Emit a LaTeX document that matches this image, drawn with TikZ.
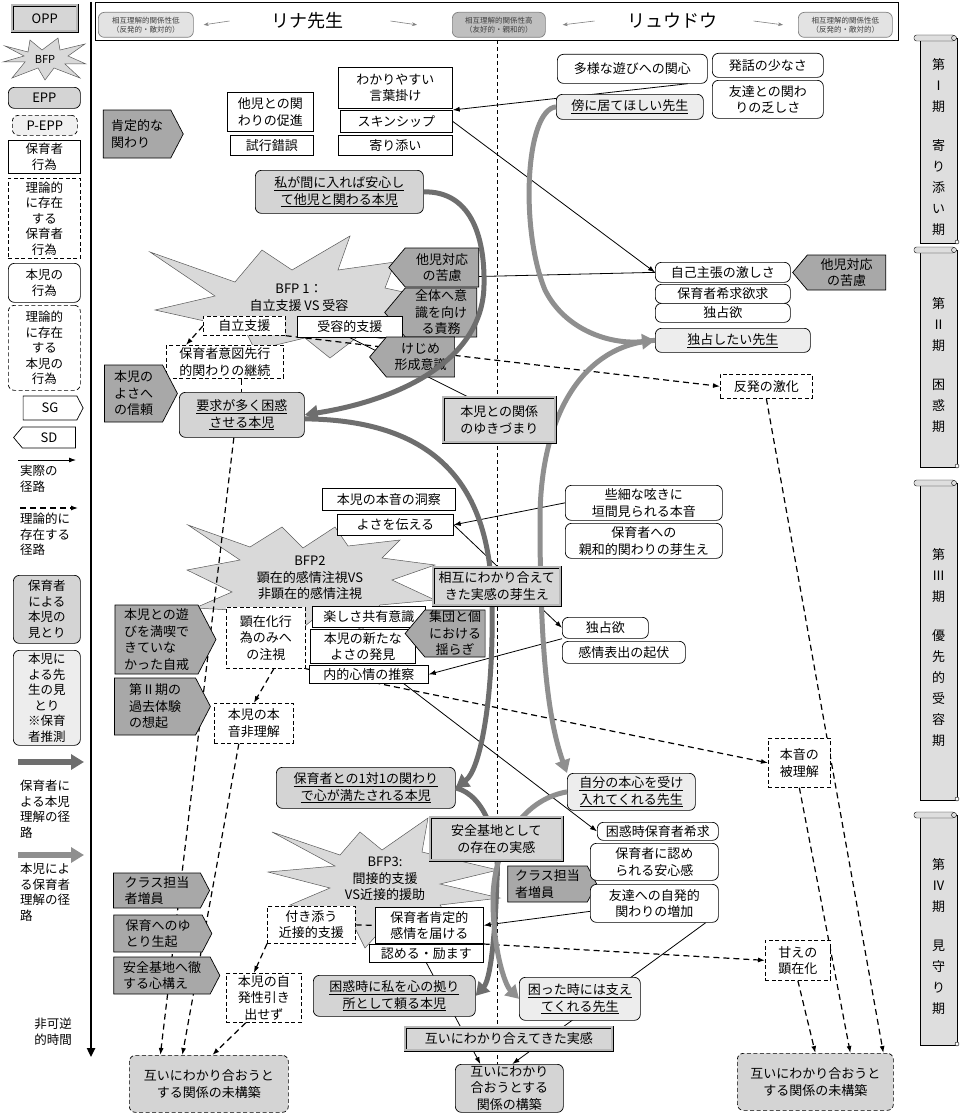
\documentclass[tikz,border=0pt]{standalone}
\usepackage{fontspec}
\setmainfont{Noto Sans CJK JP}
\usepackage{tikz}
\usetikzlibrary{shapes.symbols,arrows.meta,calc,positioning}
\definecolor{seefill}{gray}{0.83}
\definecolor{kidfill}{gray}{0.93}
\definecolor{sgfill}{gray}{0.66}
\definecolor{oppfill}{gray}{0.84}
\definecolor{burstfill}{gray}{0.85}
\definecolor{scrollfill}{gray}{0.87}
\definecolor{teachline}{gray}{0.43}
\definecolor{kidline}{gray}{0.56}
\pgfdeclarelayer{bg}
\pgfdeclarelayer{curve}
\pgfdeclarelayer{top}
\pgfsetlayers{bg,main,curve,top}
\tikzset{
  box/.style={draw, line width=0.7pt, anchor=north west, align=center, inner sep=1pt, fill=white},
  act/.style={box},
  pact/.style={box, dash pattern=on 4pt off 2.5pt},
  kid/.style={box, rounded corners=6pt},
  pkid/.style={kid, dash pattern=on 4pt off 2.5pt},
  seet/.style={kid, fill=seefill},
  seek/.style={kid, fill=kidfill},
  opp/.style={box, fill=oppfill, double=gray!55, double distance=2pt, line width=0.6pt},
  sg/.style={signal, signal to=east, signal pointer angle=125, draw, line width=0.7pt, fill=sgfill, align=left, inner sep=1pt},
  sd/.style={signal, signal to=west, signal pointer angle=100, draw, line width=0.7pt, fill=sgfill, align=center, inner sep=1pt},
  real/.style={-{Latex[length=7pt,width=5pt]}, line width=0.8pt},
  theo/.style={real, dash pattern=on 6pt off 4pt, line width=1.2pt},
  theoline/.style={theo, -},
  tview/.style={line width=5pt, teachline, -{Triangle[length=13pt,width=15pt]}},
  kview/.style={tview, kidline},
  burst/.style={fill=burstfill, draw=gray!70!black, line width=0.5pt},
  hdr/.style={-{Stealth[length=5pt]}, gray, line width=0.6pt},
  legend/.style={font=\fontsize{12.5}{15.5}\selectfont}
}
\begin{document}
\begin{tikzpicture}[x=1pt, y=-1pt, font=\fontsize{13}{16.5}\selectfont]
\useasboundingbox (0,0) rectangle (961,1116);

% header
\draw[line width=0.7pt] (95,2.5) rectangle (898,40);
\node[kid, fill=gray!22, draw=gray, minimum width=95pt, minimum height=25pt, text=darkgray,
      font=\fontsize{7.5}{9}\selectfont] (lowL) at (98,12) {相互理解的関係性低\\（反発的・敵対的）};
\node[kid, fill=gray!50, draw=gray, minimum width=93pt, minimum height=25pt, text=darkgray,
      font=\fontsize{7.5}{9}\selectfont] (high) at (452,12) {相互理解的関係性高\\（友好的・親和的）};
\node[kid, fill=gray!22, draw=gray, minimum width=94pt, minimum height=25pt, text=darkgray,
      font=\fontsize{7.5}{9}\selectfont] (lowR) at (798,12) {相互理解的関係性低\\（反発的・敵対的）};
\node[font=\fontsize{18}{20}\selectfont] (rina) at (307,21) {リナ先生};
\node[font=\fontsize{18}{20}\selectfont] (ryu) at (672,21) {リュウドウ};
\draw[hdr] ([xshift=-38pt]rina.west) -- ([xshift=10pt]lowL.east);
\draw[hdr] ([xshift=44pt]rina.east) -- ([xshift=-35pt]high.west);
\draw[hdr] ([xshift=-29pt]ryu.west) -- ([xshift=17pt]high.east);
\draw[hdr] ([xshift=33pt]ryu.east) -- ([xshift=-15pt]lowR.west);

% time axis
\draw[line width=2.5pt, -{Triangle[length=9pt,width=8pt]}] (91,2) -- (91,1057);

% legend
\node[opp, minimum width=65pt, minimum height=26pt] (lgopp) at (12,5) {OPP};
\draw[burst] (5,46) -- (28,52) -- (30,40) -- (42,50) -- (58,38) -- (60,50) -- (85,44) -- (68,56)
  -- (86,64) -- (65,64) -- (80,78) -- (54,68) -- (45,80) -- (38,68) -- (12,78) -- (25,62)
  -- (3,62) -- (24,56) -- cycle;
\node[font=\fontsize{11}{13}\selectfont] (lgbfp) at (45,59) {BFP};
\node[kid, fill=seefill, minimum width=72pt, minimum height=21pt] (lgepp) at (8,87) {EPP};
\node[pkid, fill=gray!12, minimum width=65pt, minimum height=20pt] (lgpepp) at (12,115) {P-EPP};
\node[act, legend, minimum width=72pt, minimum height=33pt] (lgact) at (8,140) {保育者\\行為};
\node[pact, legend, minimum width=72pt, minimum height=80pt] (lgpact) at (8,178) {理論的\\に存在\\する\\保育者\\行為};
\node[kid, legend, minimum width=72pt, minimum height=39pt] (lgkid) at (8,263) {本児の\\行為};
\node[pkid, legend, minimum width=72pt, minimum height=85pt] (lgpkid) at (8,305) {理論的\\に存在\\する\\本児の\\行為};
\node[sg, fill=white, minimum width=60pt, minimum height=24pt, align=center] (lgsg) at (50,408) {SG};
\node[sd, fill=white, minimum width=62pt, minimum height=21pt] (lgsd) at (49,437.5) {SD};
\coordinate (lgr1) at (18,460);
\coordinate (lgr2) at (76,460);
\draw[real] (lgr1) -- (lgr2);
\node[legend, anchor=north west, align=left, inner sep=0pt] (lgrtxt) at (20,465) {実際の\\径路};
\coordinate (lgt1) at (20,508);
\coordinate (lgt2) at (78,508);
\draw[theo] (lgt1) -- (lgt2);
\node[legend, anchor=north west, align=left, inner sep=0pt] (lgttxt) at (20,513) {理論的に\\存在する\\径路};
\node[seet, legend, minimum width=67pt, minimum height=68pt] (lgsee) at (13,575) {保育者\\による\\本児の\\見とり};
\node[seek, legend, minimum width=67pt, minimum height=95pt] (lgseek) at (13,650) {本児に\\よる先\\生の見\\とり\\※保育\\者推測};
\coordinate (lgv1) at (18,762);
\coordinate (lgv2) at (84,762);
\draw[tview, line width=6pt] (lgv1) -- (lgv2);
\node[legend, anchor=north west, align=left, inner sep=0pt] (lgvtxt) at (20,780) {保育者に\\よる本児\\理解の径\\路};
\coordinate (lgk1) at (18,855);
\coordinate (lgk2) at (84,855);
\draw[kview, line width=6pt] (lgk1) -- (lgk2);
\node[legend, anchor=north west, align=left, inner sep=0pt] (lgktxt) at (20,863) {本児によ\\る保育者\\理解の径\\路};
\node[legend, anchor=north east, align=right, inner sep=0pt] (lgtime) at (72,1018) {非可逆\\的時間};

% period scrolls
\foreach \ya/\yb/\lab in {35/243/{第\\Ⅰ\\期\\[18pt]寄\\り\\添\\い\\期},
    247/467/{第\\Ⅱ\\期\\[18pt]困\\惑\\期},
    480/800/{第\\Ⅲ\\期\\[18pt]優\\先\\的\\受\\容\\期},
    812/1045/{第\\Ⅳ\\期\\[18pt]見\\守\\り\\期}}{
  \draw[fill=scrollfill, line width=0.7pt] (920,\ya+3) rectangle (957,\yb);
  \draw[fill=scrollfill, rounded corners=2.5pt] (914,\ya) rectangle (955,\ya+6);
  \draw[fill=scrollfill] (954,\ya+3) circle (2.5pt);
  \draw[fill=white] (957,\yb-1) circle (2pt);
  \node[align=center, font=\fontsize{13}{21}\selectfont] at (938.5,{(\ya+\yb)/2+8}) {\lab};
}

% period I
\node[sg, minimum width=80pt, minimum height=48pt] (kotei) at (137,134) {肯定的な\\関わり};
\node[act, minimum width=86pt, minimum height=39pt] (takoji) at (227,92) {他児との関\\わりの促進};
\node[act, minimum width=83pt, minimum height=20pt] (shikou) at (230,135) {試行錯誤};
\node[act, minimum width=114pt, minimum height=41pt] (kotoba) at (338,67) {わかりやすい\\言葉掛け};
\node[act, minimum width=112pt, minimum height=22pt] (skin) at (340,110) {スキンシップ};
\node[act, minimum width=114pt, minimum height=20pt] (yorisoi) at (338,135) {寄り添い};
\node[seet, minimum width=168pt, minimum height=43pt] (anshin) at (255,170) {\underline{私が間に入れば安心し}\\\underline{て他児と関わる本児}};
\node[kid, minimum width=150pt, minimum height=29pt] (tayou) at (557,54) {多様な遊びへの関心};
\node[kid, minimum width=111pt, minimum height=24pt] (hatsuwa) at (712,53) {発話の少なさ};
\node[kid, minimum width=111pt, minimum height=38pt] (tomo) at (712,80) {友達との関わ\\りの乏しさ};
\node[seek, minimum width=147pt, minimum height=25pt] (soba) at (556,94) {\underline{傍に居てほしい先生}};

% period II
\node[align=center] (bfp1) at (299,298) {BFP 1：\\自立支援 VS 受容};
\node[sd, minimum width=90pt, minimum height=39pt] (takuL) at (442,267.5) {他児対応\\の苦慮};
\node[sd, minimum width=92pt, minimum height=49pt] (zentai) at (441,312.5) {全体へ意\\識を向け\\る責務};
\node[pact, minimum width=82pt, minimum height=19pt] (jiritsu) at (203,316) {自立支援};
\node[act, minimum width=105pt, minimum height=21pt] (juyou) at (297,316) {受容的支援};
\node[sd, minimum width=85pt, minimum height=40pt] (kejime) at (420.5,357) {けじめ\\形成意識};
\node[pact, minimum width=117pt, minimum height=33pt] (ito) at (166,345) {保育者意図先行\\的関わりの継続};
\node[sg, minimum width=73pt, minimum height=57pt] (yosa) at (133.5,393.5) {本児の\\よさへ\\の信頼};
\node[seet, minimum width=125pt, minimum height=45pt] (youkyu) at (179,392) {\underline{要求が多く困惑}\\\underline{させる本児}};
\node[kid, minimum width=135pt, minimum height=20pt] (jiko) at (655,262) {自己主張の激しさ};
\node[kid, minimum width=135pt, minimum height=19pt] (kikyu) at (655,284) {保育者希求欲求};
\node[kid, minimum width=135pt, minimum height=19pt] (dokusenA) at (655,303) {独占欲};
\node[sd, minimum width=93pt, minimum height=35pt] (takuR) at (846.5,272.5) {他児対応\\の苦慮};
\node[seek, minimum width=155pt, minimum height=24pt] (dokusenT) at (655,328) {\underline{独占したい先生}};
\node[pact, minimum width=92pt, minimum height=24pt] (hanpatsu) at (720,374) {反発の激化};

% period III
\node[act, minimum width=133pt, minimum height=22pt] (douzatsu) at (322,488) {本児の本音の洞察};
\node[act, minimum width=116pt, minimum height=21pt] (tsutae) at (337,514) {よさを伝える};
\node[align=center] (bfp2) at (310,578) {BFP2\\顕在的感情注視VS\\非顕在的感情注視};
\node[sg, minimum width=101pt, minimum height=69pt] (jikai) at (156.5,639.5) {本児との遊\\びを満喫で\\きていな\\かった自戒};
\node[sg, minimum width=96pt, minimum height=57pt] (kako) at (155,706.5) {第Ⅱ期の\\過去体験\\の想起};
\node[pact, minimum width=79pt, minimum height=61pt] (kenzai) at (226,607) {顕在化行\\為のみへ\\の注視};
\node[act, minimum width=113pt, minimum height=21pt] (tanoshi) at (312,606) {楽しさ共有意識};
\node[act, minimum width=105pt, minimum height=34pt] (aratana) at (310,629) {本児の新たな\\よさの発見};
\node[sd, minimum width=80pt, minimum height=47pt] (yuragi) at (455,633.5) {集団と個\\における\\揺らぎ};
\node[act, minimum width=119pt, minimum height=18pt] (naiteki) at (309,665) {内的心情の推察};
\node[pact, minimum width=79pt, minimum height=40pt] (hirikai) at (214,703) {本児の本\\音非理解};
\node[seet, minimum width=179pt, minimum height=41pt] (ichitai) at (276,767) {\underline{保育者との1対1の関わり}\\\underline{で心が満たされる本児}};
\node[kid, minimum width=157pt, minimum height=35pt] (sasai) at (565,485) {些細な呟きに\\垣間見られる本音};
\node[kid, minimum width=157pt, minimum height=35pt] (shinwa) at (565,523) {保育者への\\親和的関わりの芽生え};
\node[kid, minimum width=86pt, minimum height=21pt] (dokusenB) at (562,617) {独占欲};
\node[kid, minimum width=123pt, minimum height=22pt] (kifuku) at (562,641) {感情表出の起伏};
\node[pact, minimum width=62pt, minimum height=49pt] (hiri) at (768,738) {本音の\\被理解};
\node[seek, minimum width=128pt, minimum height=37pt] (jibun) at (567,773) {\underline{自分の本心を受け}\\\underline{入れてくれる先生}};

% period IV
\node[align=center] (bfp3) at (385,879) {BFP3:\\間接的支援\\VS近接的援助};
\node[sg, minimum width=96pt, minimum height=35pt] (classL) at (157,890.5) {クラス担当\\者増員};
\node[sg, minimum width=98pt, minimum height=37pt] (yutori) at (158,933.5) {保育へのゆ\\とり生起};
\node[sg, minimum width=106pt, minimum height=37pt] (tessuru) at (162,975.5) {安全基地へ徹\\する心構え};
\node[pact, minimum width=88pt, minimum height=37pt] (tsukisou) at (267,906) {付き添う\\近接的支援};
\node[act, minimum width=108pt, minimum height=36pt] (koutei) at (375,907) {保育者肯定的\\感情を届ける};
\node[act, minimum width=114pt, minimum height=18pt] (hagemasu) at (369,944) {認める・励ます};
\node[sg, minimum width=89pt, minimum height=36pt] (classR) at (547.5,884) {クラス担当\\者増員};
\node[kid, minimum width=121pt, minimum height=18pt] (konwaku) at (597,822) {困惑時保育者希求};
\node[kid, minimum width=128pt, minimum height=37pt] (mitomerare) at (590,843) {保育者に認め\\られる安心感};
\node[kid, minimum width=128pt, minimum height=38pt] (tomodachi) at (590,884) {友達への自発的\\関わりの増加};
\node[pact, minimum width=65pt, minimum height=40pt] (amae) at (765,940) {甘えの\\顕在化};
\node[seet, minimum width=162pt, minimum height=41pt] (yoridokoro) at (313,975) {\underline{困惑時に私を心の拠り}\\\underline{所として頼る本児}};
\node[seek, minimum width=121pt, minimum height=43pt] (sasaete) at (519,977) {\underline{困った時には支え}\\\underline{てくれる先生}};
\node[pact, minimum width=75pt, minimum height=49pt] (jihatsu) at (226,973) {本児の自\\発性引き\\出せず};
\node[seet, minimum width=108pt, minimum height=48pt] (kouchiku) at (455,1064) {互いにわかり\\合おうとする\\関係の構築};
\node[pkid, fill=seefill, minimum width=159pt, minimum height=57pt] (mikouL) at (129,1055) {互いにわかり合おうと\\する関係の未構築};
\node[pkid, fill=seefill, minimum width=156pt, minimum height=57pt] (mikouR) at (737,1053) {互いにわかり合おうと\\する関係の未構築};

% OPP boxes on top
\begin{pgfonlayer}{top}
\node[opp, minimum width=112pt, minimum height=45pt] (yukidumari) at (443,397) {本児との関係\\のゆきづまり};
\node[opp, minimum width=127pt, minimum height=38pt] (sougo) at (433,567) {相互にわかり合えて\\きた実感の芽生え};
\node[opp, minimum width=132pt, minimum height=43pt] (anzen) at (430,817) {安全基地として\\の存在の実感};
\node[opp, minimum width=207pt, minimum height=23pt] (tagai) at (405,1027) {互いにわかり合えてきた実感};
\end{pgfonlayer}

% bursts and paths
\begin{pgfonlayer}{bg}
\draw[burst] (150,252) -- (235,282) -- (262,250) -- (292,270) -- (350,236) -- (338,270) -- (395,262)
  -- (385,288) -- (440,300) -- (395,318) -- (420,345) -- (360,335) -- (330,358) -- (305,338)
  -- (255,350) -- (245,330) -- (155,310) -- (215,296) -- cycle;
\draw[burst] (188,525) -- (250,547) -- (282,527) -- (303,548) -- (335,527) -- (348,546) -- (400,540)
  -- (382,558) -- (435,565) -- (392,580) -- (435,600) -- (380,605) -- (362,630) -- (325,610)
  -- (290,638) -- (268,612) -- (195,608) -- (232,592) -- (187,570) -- (240,560) -- cycle;
\draw[burst] (272,832) -- (340,855) -- (360,832) -- (382,850) -- (428,818) -- (422,852) -- (498,870)
  -- (440,884) -- (500,898) -- (440,905) -- (460,935) -- (395,915) -- (365,948) -- (350,918)
  -- (290,905) -- (330,888) -- (268,872) -- (335,866) -- cycle;
\draw[dash pattern=on 4pt off 3pt, line width=0.7pt] (497,40) -- (497,1097);
% period I
\draw[real] (tayou.-15) -- (skin.north east);
\draw[real] (skin.east) -- (jiko.west);
\draw[line width=0.8pt] ([yshift=-9pt]takuL.east) -- (jiko.west);
% period II
\draw[theo] (jiritsu.west) -- ([xshift=20pt]ito.north west);
\draw[theo] (jiritsu.south east) -- (hanpatsu.west);
\draw[line width=0.8pt] (juyou.south) -- ([xshift=-31pt]yukidumari.north);
\draw[theoline] (ito.south -| youkyu.north) -- (youkyu.north);
\draw[theo] ([xshift=-8pt]youkyu.south) -- ([xshift=-48.5pt]mikouL.north);
% period III
\draw[real] (sasai.west) -- (tsutae.east);
\draw[real] (tsutae.east) -- (dokusenB.west);
\draw[real] (dokusenB.south west) -- (naiteki.east);
\draw[theo] ([xshift=8pt]kenzai.south) -- (hirikai.north);
\draw[theo] (kenzai.south east) -- (hiri.west);
\draw[real] ([xshift=35pt]naiteki.south) -- (konwaku.west);
\draw[theo] ([xshift=-15pt]hirikai.south) -- ([xshift=-26.5pt]mikouL.north);
% period IV
\draw[theo] (tsukisou.south west) -- ([xshift=-10pt]jihatsu.north);
\draw[theo] ([xshift=-18pt]jihatsu.south) -- ([xshift=3.5pt]mikouL.north);
\draw[theoline] (tsukisou.east) -- (koutei.west);
\draw[real] ([yshift=-8pt]tomodachi.west) -- (koutei.east);
\draw[theo] (hagemasu.north east) -- (amae.west);
\draw[real] (hagemasu.south) -- ([xshift=-29pt]kouchiku.north);
\draw[real] ([xshift=-13pt]tomodachi.south east) -- ([xshift=3pt]kouchiku.north);
\draw[theo] (hanpatsu.south) -- ([xshift=68pt]mikouR.north);
\draw[theo] (hiri.south) -- ([xshift=35pt]mikouR.north);
\draw[theo] (amae.south) -- (mikouR.north);
\end{pgfonlayer}

% understanding paths
\begin{pgfonlayer}{curve}
\draw[tview] (anshin.east) .. controls (470,191) and (485,235) .. (484,285)
  .. controls (483,360) and (400,400) .. (youkyu.east);
\draw[tview] ([yshift=-4pt]youkyu.east) .. controls (420,420) and (490,470) .. (492,600)
  .. controls (494,700) and (480,770) .. (ichitai.east);
\draw[tview] (ichitai.east) .. controls (485,795) and (500,840) .. (497,880)
  .. controls (495,940) and (490,980) .. (yoridokoro.east);
\draw[kview] (soba.west) .. controls (525,110) and (520,230) .. (545,290)
  .. controls (565,330) and (610,345) .. (dokusenT.west);
\draw[kview] (dokusenT.west) .. controls (580,345) and (540,420) .. (540,520)
  .. controls (540,650) and (548,720) .. (jibun.north west);
\draw[kview] (jibun.west) .. controls (520,800) and (493,850) .. (493,900)
  .. controls (493,950) and (505,985) .. (sasaete.west);
\end{pgfonlayer}
\end{tikzpicture}
\end{document}
